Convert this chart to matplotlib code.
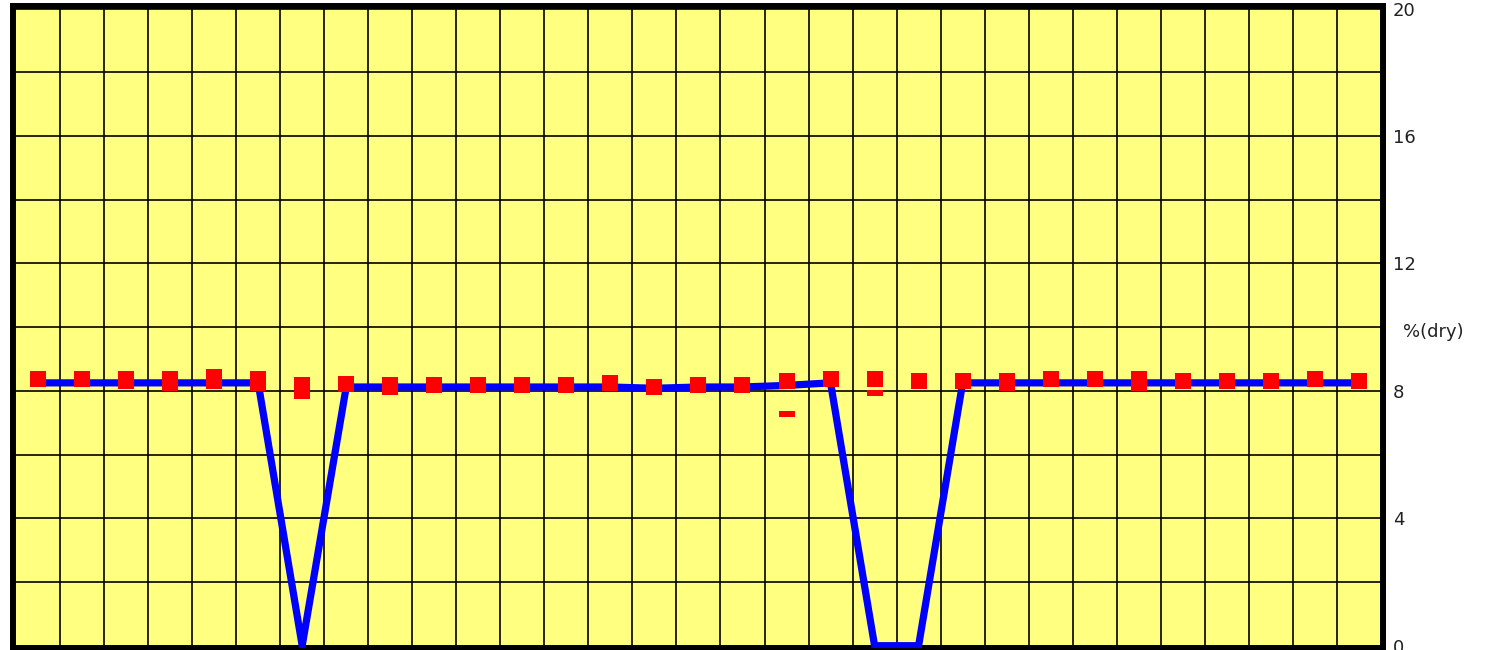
import numpy as np
import matplotlib
matplotlib.use("Agg")
import matplotlib.pyplot as plt
from matplotlib.path import Path

# ---- data ----
line_vals = [8.25, 8.25, 8.25, 8.25, 8.25, 8.25, 0.0, 8.12, 8.12, 8.12, 8.12,
             8.12, 8.12, 8.12, 8.08, 8.12, 8.12, 8.17, 8.25, 0.0, 0.0, 8.25,
             8.25, 8.25, 8.25, 8.25, 8.25, 8.25, 8.25, 8.25, 8.25]
square_vals = [8.36, 8.36, 8.36, 8.36, 8.42, 8.36, 8.17, 8.20, 8.17, 8.17, 8.17,
               8.17, 8.17, 8.24, 8.11, 8.17, 8.17, 8.30, 8.36, 8.36, 8.30, 8.30,
               8.30, 8.36, 8.36, 8.36, 8.30, 8.30, 8.30, 8.36, 8.30]
dash_vals = [8.36, 8.36, 8.14, 8.08, 8.14, 8.08, 7.83, 8.20, 7.95, 8.17, 8.17,
             8.17, 8.17, 8.24, 8.11, 8.17, 8.17, 7.26, 8.36, 7.93, 8.30, 8.30,
             8.08, 8.36, 8.36, 8.08, 8.30, 8.30, 8.30, 8.36, 8.30]
y_ticks = [0, 4, 8, 12, 16, 20]
y_label = "%(dry)"

W, H = 1487, 650
fig = plt.figure(figsize=(W / 100, H / 100), dpi=100)
fig.patch.set_facecolor("white")

left, right, top, bottom = 13.3, 1383.0, 5.8, 648.0
ax = fig.add_axes([left / W, 1 - bottom / H, (right - left) / W, (bottom - top) / H])
ax.set_facecolor("#FFFF80")

x = np.arange(len(line_vals))
ax.set_xlim(-0.561, 30.547)
ax.set_ylim(-0.072, 20.085)

# grid
ax.set_xticks(x[:-1] + 0.5, minor=True)
ax.set_xticks([])
ax.set_yticks(y_ticks)
ax.set_yticks([2, 6, 10, 14, 18], minor=True)
ax.grid(True, which="both", axis="y", color="black", linewidth=1.2, zorder=0)
ax.grid(True, which="minor", axis="x", color="black", linewidth=1.2, zorder=0)
ax.set_axisbelow(True)

ax.yaxis.tick_right()
ax.tick_params(axis="y", which="both", length=0, pad=7, labelsize=13,
               labelcolor="#222222")
ax.tick_params(axis="x", which="both", length=0, labelbottom=False)

for sp in ax.spines.values():
    sp.set_linewidth(4.3)
    sp.set_color("black")

# series
ax.plot(x, line_vals, color="#0000FF", linewidth=5.2, zorder=2.6,
        solid_joinstyle="miter")

dash_marker = Path([(-0.5, -0.2), (0.5, -0.2), (0.5, 0.2), (-0.5, 0.2), (-0.5, -0.2)],
                   [Path.MOVETO, Path.LINETO, Path.LINETO, Path.LINETO, Path.CLOSEPOLY])
ax.plot(x, dash_vals, linestyle="none", marker=dash_marker, markersize=12.0,
        markerfacecolor="#FF0000", markeredgewidth=0, zorder=2.7)
ax.plot(x, square_vals, linestyle="none", marker="s", markersize=12.0,
        markerfacecolor="#FF0000", markeredgewidth=0, zorder=2.8)

fig.text(1403 / W, 1 - 331.7 / H, y_label, fontsize=13, color="#222222",
         ha="left", va="center")

fig.savefig("out.png", dpi=100)
